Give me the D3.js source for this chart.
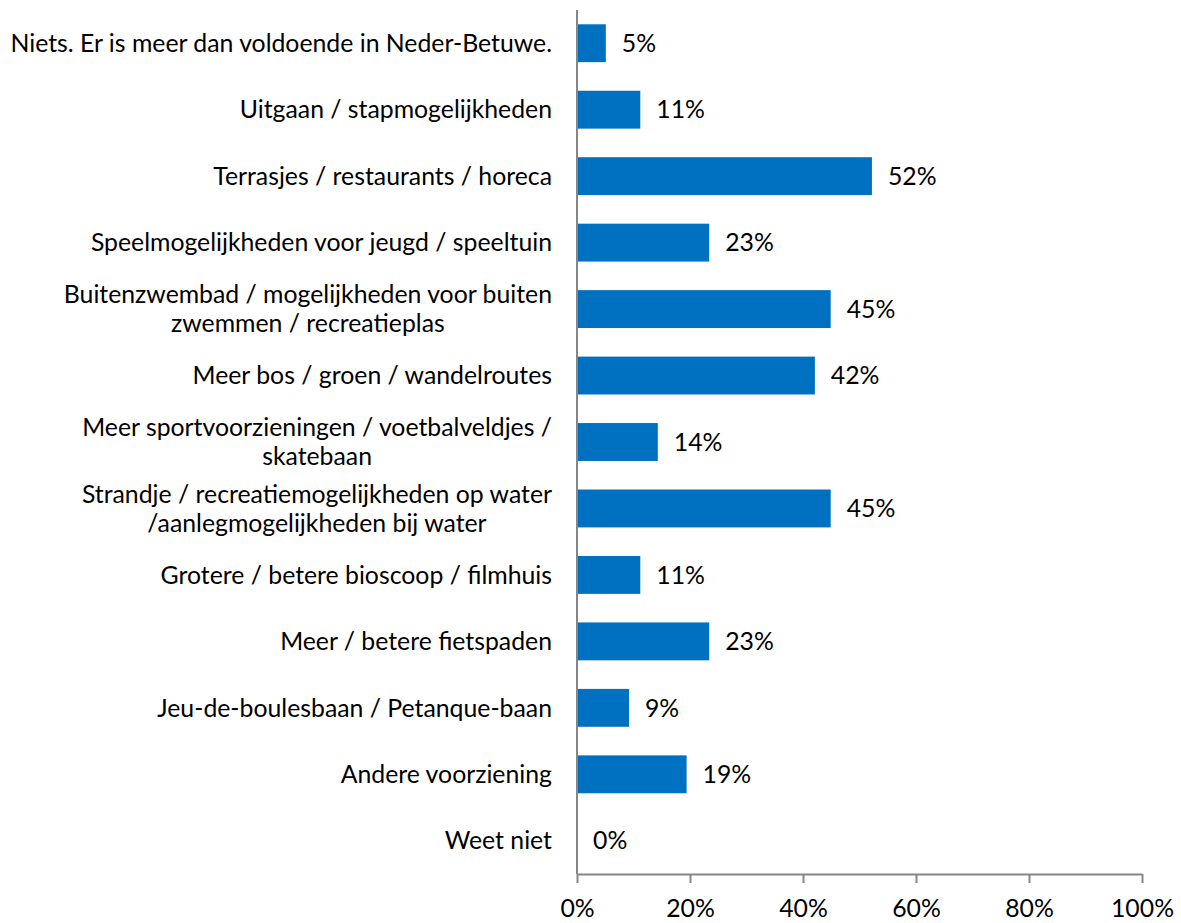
<!DOCTYPE html>
<html>
<head>
<meta charset="utf-8">
<script src="https://cdn.jsdelivr.net/npm/d3@7/dist/d3.min.js"></script>
<style>
  html, body { margin: 0; padding: 0; background: #fff; }
  svg { display: block; }
</style>
</head>
<body>
<svg id="chart" width="1181" height="923"></svg>
<script>
const categories = [
  ["Niets. Er is meer dan voldoende in Neder-Betuwe."],
  ["Uitgaan / stapmogelijkheden"],
  ["Terrasjes / restaurants / horeca"],
  ["Speelmogelijkheden voor jeugd / speeltuin"],
  ["Buitenzwembad / mogelijkheden voor buiten", "zwemmen / recreatieplas"],
  ["Meer bos / groen / wandelroutes"],
  ["Meer sportvoorzieningen / voetbalveldjes /", "skatebaan"],
  ["Strandje / recreatiemogelijkheden op water", "/aanlegmogelijkheden bij water"],
  ["Grotere / betere bioscoop / filmhuis"],
  ["Meer / betere fietspaden"],
  ["Jeu-de-boulesbaan / Petanque-baan"],
  ["Andere voorziening"],
  ["Weet niet"]
];
const values = [5.1, 11.2, 52.2, 23.4, 44.9, 42.1, 14.3, 44.9, 11.2, 23.4, 9.2, 19.4, 0];
const xTicks = [0, 20, 40, 60, 80, 100];

(function () {
const svg = d3.select("#chart");
const FONT = "Lato, 'Open Sans', sans-serif";
const mLeft = 577, mRight = 1142, mTop = 10, mBottom = 874;

// font size so the longest label matches the reference width
const probe = svg.append("text").attr("font-family", FONT).attr("font-size", 24)
  .text(categories[0][0]);
const w24 = probe.node().getComputedTextLength();
probe.remove();
const fs = Math.min(25, 24 * 542 / w24);

const x = d3.scaleLinear().domain([0, 100]).range([mLeft, mRight]);
const idx = categories.map((d, i) => i);
const y = d3.scaleBand().domain(idx).range([mTop, mBottom]).paddingInner(0.43).paddingOuter(0.215);

// bars
svg.append("g").selectAll("rect").data(values).join("rect")
  .attr("x", x(0))
  .attr("y", (d, i) => y(i))
  .attr("width", d => x(d) - x(0))
  .attr("height", y.bandwidth())
  .attr("fill", "#0070C0");

// value labels
svg.append("g").selectAll("text").data(values).join("text")
  .attr("x", d => x(d) + 16)
  .attr("y", (d, i) => y(i) + y.bandwidth() / 2)
  .attr("dy", "0.35em")
  .attr("font-family", FONT)
  .attr("font-size", fs)
  .attr("fill", "#000")
  .text(d => Math.round(d) + "%");

// category labels (block right-aligned, lines centered)
const lineH = 29;
const labelRight = 552;
const lg = svg.append("g");
categories.forEach((lines, i) => {
  const cy = y(i) + y.bandwidth() / 2;
  const t = lg.append("text").attr("font-family", FONT).attr("font-size", fs).attr("fill", "#000");
  const n = lines.length;
  const spans = lines.map((ln, j) => t.append("tspan")
    .attr("y", cy + (j - (n - 1) / 2) * lineH)
    .attr("dy", "0.35em")
    .text(ln));
  const widths = spans.map(s => s.node().getComputedTextLength());
  const maxW = d3.max(widths);
  const cx = labelRight - maxW / 2;
  spans.forEach(s => s.attr("x", cx).attr("text-anchor", "middle"));
});

// x axis
const xAxis = d3.axisBottom(x).tickValues(xTicks).tickFormat(d => d + "%").tickSize(9).tickSizeOuter(0);
const gx = svg.append("g").attr("transform", `translate(0,${mBottom})`).call(xAxis);
gx.select(".domain").attr("stroke", "#868686").attr("stroke-width", 2);
gx.selectAll(".tick line").attr("stroke", "#868686").attr("stroke-width", 2);
gx.selectAll(".tick text").attr("font-family", FONT).attr("font-size", fs).attr("fill", "#000")
  .attr("y", 43).attr("dy", "0");

// y axis line
svg.append("line")
  .attr("x1", mLeft).attr("x2", mLeft).attr("y1", mTop).attr("y2", mBottom)
  .attr("stroke", "#868686").attr("stroke-width", 2);
})();
</script>
</body>
</html>
